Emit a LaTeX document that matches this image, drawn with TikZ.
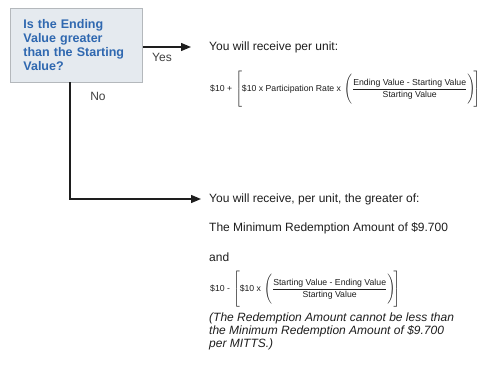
\documentclass[tikz,border=0pt]{standalone}
\usepackage{fontspec}
\setmainfont{Liberation Sans}
\usetikzlibrary{arrows.meta}
\definecolor{boxfill}{HTML}{E5EAEF}
\definecolor{boxline}{HTML}{B4B8BC}
\definecolor{qblue}{HTML}{2F68B0}
\definecolor{txt}{HTML}{1E1E1E}
\newcommand{\bigstrutA}{\rule[-15pt]{0pt}{30pt}}
\newcommand{\bigstrutB}{\rule[-12pt]{0pt}{24pt}}
\begin{document}
\begin{tikzpicture}[x=1pt,y=-1pt,
  qbox/.style={draw=boxline, fill=boxfill, line width=0.8pt, text width=106pt, inner xsep=13pt, inner ysep=0pt, minimum height=74pt, align=left, font=\fontsize{12.5}{14}\selectfont\bfseries, text=qblue, anchor=north west},
  body/.style={anchor=west, inner sep=0pt, font=\fontsize{12}{14}\selectfont, text=txt},
  formula/.style={anchor=west, inner sep=0pt, font=\fontsize{8.7}{10}\selectfont, text=txt},
  note/.style={anchor=north west, inner sep=0pt, align=left, font=\fontsize{12}{13}\selectfont\itshape, text=txt},
  lbl/.style={inner sep=0pt, font=\fontsize{12}{14}\selectfont, text=txt!85},
  conn/.style={draw=txt, line width=1.3pt, -{Triangle[length=10pt,width=8pt]}}
]
\useasboundingbox (0,0) rectangle (488,375);
\fill[white] (0,0) rectangle (488,375);

\node[qbox] (q) at (10,8) {Is the Ending\\Value greater\\than the Starting\\Value?};

\node[body] (t1) at (209,47) {You will receive per unit:};
\node[formula] (f1) at (210,89) {$\displaystyle \mbox{\$10 +}\,\left[\bigstrutA\mbox{\$10 x Participation Rate x}\,\left(\bigstrutB\frac{\mbox{Ending Value - Starting Value}}{\mbox{Starting Value}}\right)\!\right]$};

\node[body] (t2) at (209,199) {You will receive, per unit, the greater of:};
\node[body] (t3) at (209,228) {The Minimum Redemption Amount of \$9.700};
\node[body] (t4) at (209,257) {and};
\node[formula] (f2) at (210,289) {$\displaystyle \mbox{\$10 -}\,\left[\bigstrutA\mbox{\$10 x}\,\left(\bigstrutB\frac{\mbox{Starting Value - Ending Value}}{\mbox{Starting Value}}\right)\!\right]$};
\node[note] (n) at (209,313) {(The Redemption Amount cannot be less than\\the Minimum Redemption Amount of \$9.700\\per MITTS.)};

\node[lbl] (yes) at (162,57) {Yes};
\node[lbl] (no) at (98,96) {No};

\coordinate (qb) at (70,82);
\draw[conn, shorten >=18pt] (q.east |- t1.west) -- (t1.west);
\draw[conn, shorten >=8pt] (qb) |- (t2.west);
\end{tikzpicture}
\end{document}
